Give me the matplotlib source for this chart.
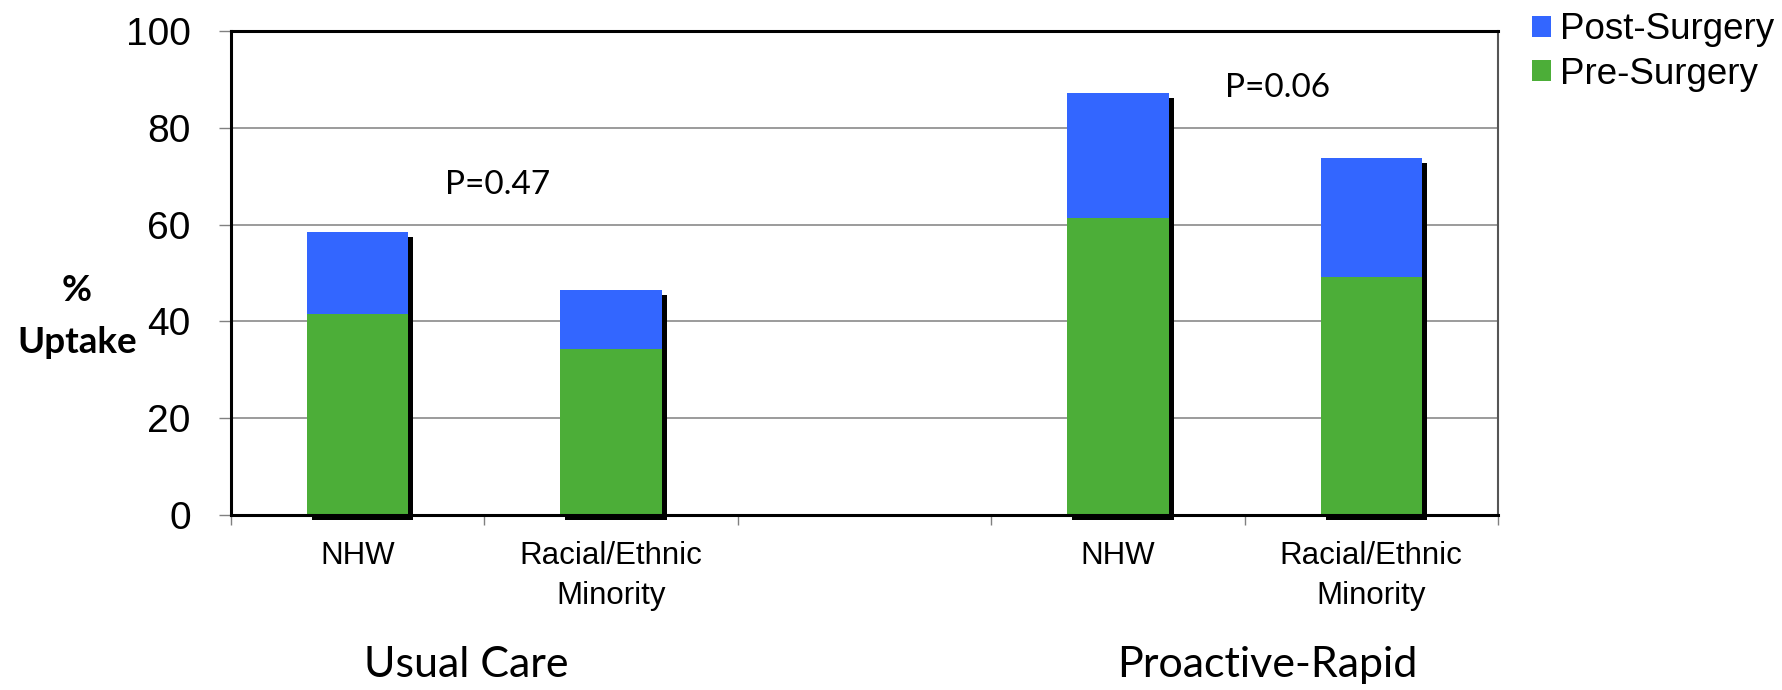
import matplotlib
matplotlib.use("Agg")
import matplotlib.pyplot as plt
import matplotlib.transforms as mtransforms
from matplotlib.patches import Patch
import numpy as np

# ---- data -------------------------------------------------------------
categories = ["NHW", "Racial/Ethnic\nMinority", "NHW", "Racial/Ethnic\nMinority"]
groups = ["Usual Care", "Proactive-Rapid"]
pre_surgery = [41.5, 34.2, 61.3, 49.2]
post_surgery = [16.9, 12.2, 25.8, 24.5]
p_values = ["P=0.47", "P=0.06"]
y_ticks = [0, 20, 40, 60, 80, 100]

BLUE = "#3366FF"
GREEN = "#4CAE38"

# ---- layout -----------------------------------------------------------
fig = plt.figure(figsize=(17.83, 6.90), dpi=100)
ax = fig.add_axes([0.12956, 0.25362, 0.71060, 0.70145])

# two groups of two bars with an empty slot between them
slots = np.array([0, 1, 3, 4])
bar_w = 0.4
pre = np.array(pre_surgery)
post = np.array(post_surgery)
total = pre + post

# drop shadow behind each stacked bar
shadow = ax.bar(slots, total, width=bar_w, color="black", zorder=1.9)
offset = mtransforms.ScaledTranslation(5 / 100, -5 / 100, fig.dpi_scale_trans)
for p in shadow.patches:
    p.set_transform(ax.transData + offset)
    p.set_clip_on(False)

ax.bar(slots, pre, width=bar_w, color=GREEN, zorder=2)
ax.bar(slots, post, bottom=pre, width=bar_w, color=BLUE, zorder=2)

ax.set_xlim(-0.5, 4.5)
ax.set_ylim(0, 100)

# axes frame
for side in ("left", "top", "bottom"):
    ax.spines[side].set_color("black")
    ax.spines[side].set_linewidth(2.2)
ax.spines["right"].set_color("#555555")
ax.spines["right"].set_linewidth(1.5)

# y axis
ax.set_yticks(y_ticks)
ax.yaxis.grid(True, color="#808080", linewidth=1.1, zorder=0.5)
ax.set_axisbelow(True)
ax.tick_params(axis="y", direction="out", length=9, width=1, color="#808080",
               pad=20, labelsize=28)
for lbl in ax.get_yticklabels():
    lbl.set_fontfamily("Liberation Sans")

# x axis: labels under bars, tick marks on slot boundaries
ax.set_xticks(slots)
ax.set_xticklabels(categories)
ax.set_xticks(np.arange(-0.5, 5.0, 1.0), minor=True)
ax.tick_params(axis="x", which="major", length=0, pad=19, labelsize=22.5)
ax.tick_params(axis="x", which="minor", direction="out", length=7, width=1,
               color="#808080")
for lbl in ax.get_xticklabels():
    lbl.set_fontfamily("Liberation Sans")
    lbl.set_linespacing(1.4)

# y label
fig.text(77 / 1783, 1 - 353 / 690, "%\nUptake", ha="center", va="baseline",
         fontsize=26.5, fontweight="bold", family="Lato", linespacing=1.7,
         multialignment="center")

# p-value annotations
ax.text(0.554, 66.3, p_values[0], ha="center", va="baseline",
        fontsize=24, family="Lato")
ax.text(3.63, 86.3, p_values[1], ha="center", va="baseline",
        fontsize=24, family="Lato")

# group names below the category labels
group_tf = mtransforms.blended_transform_factory(ax.transData, fig.transFigure)
for gx, name in zip([0.43, 3.59], groups):
    ax.text(gx, 1 - 676.7 / 690, name, transform=group_tf, ha="center",
            va="baseline", fontsize=31, family="Lato")

# legend
handles = [Patch(facecolor=BLUE, label="Post-Surgery"),
           Patch(facecolor=GREEN, label="Pre-Surgery")]
fig.legend(handles=handles, loc="upper left", bbox_to_anchor=(0.859, 0.982),
           frameon=False, prop={"family": "Liberation Sans", "size": 26.5},
           handlelength=0.52, handleheight=0.52, handletextpad=0.25,
           labelspacing=0.25, borderpad=0, borderaxespad=0)

fig.savefig("out.png", dpi=100)
